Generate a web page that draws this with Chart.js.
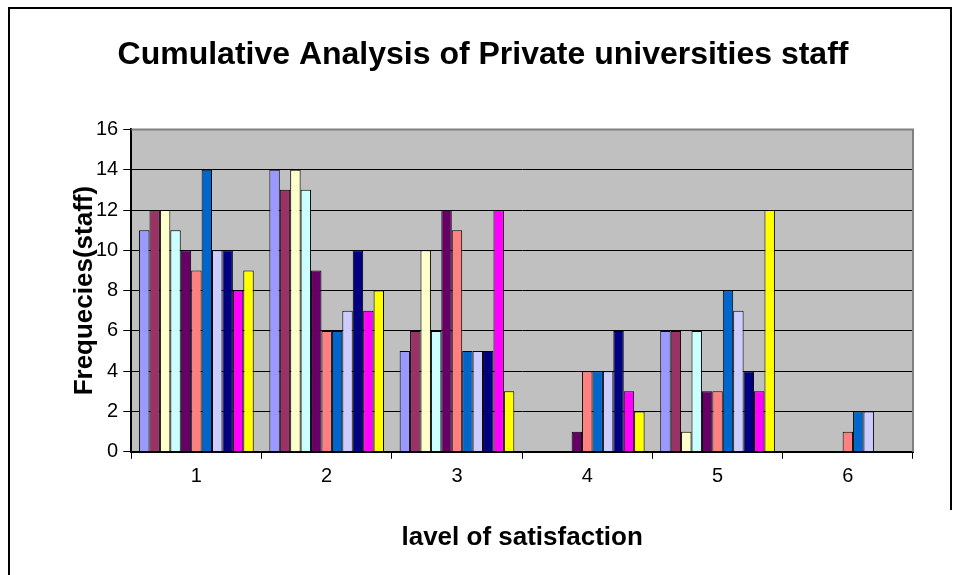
<!DOCTYPE html>
<html>
<head>
<meta charset="utf-8">
<script src="https://cdn.jsdelivr.net/npm/chart.js@4"></script>
<style>
  body { margin: 0; background: #fff; }
  #wrap { width: 958px; height: 575px; }
</style>
</head>
<body>
<div id="wrap"><canvas id="chart1"></canvas></div>
<script>
const levels = ['1', '2', '3', '4', '5', '6'];

// one array per series (Excel default colour order)
const s1 = [11, 14, 5, 0, 6, 0];
const s2 = [12, 13, 6, 0, 6, 0];
const s3 = [12, 14, 10, 0, 1, 0];
const s4 = [11, 13, 6, 0, 6, 0];
const s5 = [10, 9, 12, 1, 3, 0];
const s6 = [9, 6, 11, 4, 3, 1];
const s7 = [14, 6, 5, 4, 8, 2];
const s8 = [10, 7, 5, 4, 7, 2];
const s9 = [10, 10, 5, 6, 4, 0];
const s10 = [8, 7, 12, 3, 3, 0];
const s11 = [9, 8, 3, 2, 12, 0];

const series = [s1, s2, s3, s4, s5, s6, s7, s8, s9, s10, s11];
const colors = ['#9999FF', '#993366', '#FFFFCC', '#CCFFFF', '#660066', '#FF8080',
                '#0066CC', '#CCCCFF', '#000080', '#FF00FF', '#FFFF00'];

const font = 'Liberation Sans, Arial';

// grey plot area + outer frame
const plotBg = {
  id: 'plotBg',
  beforeDraw(chart) {
    const { ctx, chartArea: a } = chart;
    ctx.save();
    ctx.fillStyle = '#C0C0C0';
    ctx.fillRect(a.left, a.top, a.right - a.left, a.bottom - a.top);
    ctx.restore();
  },
  afterDraw(chart) {
    const { ctx, chartArea: a } = chart;
    ctx.save();
    ctx.strokeStyle = '#808080';
    ctx.lineWidth = 2;
    ctx.beginPath();
    ctx.moveTo(a.left, a.top);
    ctx.lineTo(a.right, a.top);
    ctx.lineTo(a.right, a.bottom);
    ctx.stroke();
    ctx.strokeStyle = '#000';
    ctx.lineWidth = 2;
    ctx.beginPath();
    ctx.moveTo(9, 600);
    ctx.lineTo(9, 8);
    ctx.lineTo(951, 8);
    ctx.lineTo(951, 510);
    ctx.stroke();
    ctx.restore();
  }
};

const chart1 = document.getElementById('chart1');

new Chart(chart1, {
  type: 'bar',
  data: {
    labels: levels,
    datasets: series.map((d, i) => ({
      label: 'Series' + (i + 1),
      data: d,
      backgroundColor: colors[i],
      borderColor: '#000',
      borderWidth: 1,
      categoryPercentage: 0.88,
      barPercentage: 1
    }))
  },
  options: {
    responsive: true,
    maintainAspectRatio: false,
    animation: false,
    layout: { padding: { left: 53, right: 45, top: 0, bottom: 8 } },
    plugins: {
      legend: { display: false },
      tooltip: { enabled: false },
      title: {
        display: true,
        text: 'Cumulative Analysis of Private universities staff',
        color: '#000',
        font: { family: font, size: 32, weight: 'bold' },
        padding: { top: 36, bottom: 55 }
      }
    },
    scales: {
      x: {
        grid: { offset: true, drawOnChartArea: false, tickLength: 7, tickColor: '#000' },
        border: { color: '#000', width: 2 },
        ticks: { color: '#000', padding: 6, font: { family: font, size: 20 } },
        title: {
          display: true,
          text: 'lavel of satisfaction',
          color: '#000',
          font: { family: font, size: 26, weight: 'bold' },
          padding: { top: 27, bottom: 14 }
        }
      },
      y: {
        min: 0,
        max: 16,
        ticks: { stepSize: 2, color: '#000', padding: 5, font: { family: font, size: 20 } },
        grid: {
          color: (c) => c.tick && c.tick.value === 16 ? '#808080' : '#000',
          tickColor: '#000',
          tickLength: 8,
          lineWidth: 1
        },
        border: { color: '#000', width: 2 },
        title: {
          display: true,
          text: 'Frequecies(staff)',
          color: '#000',
          font: { family: font, size: 26, weight: 'bold', lineHeight: 1 },
          padding: { top: 19, bottom: -7 }
        }
      }
    }
  },
  plugins: [plotBg]
});
</script>
</body>
</html>
